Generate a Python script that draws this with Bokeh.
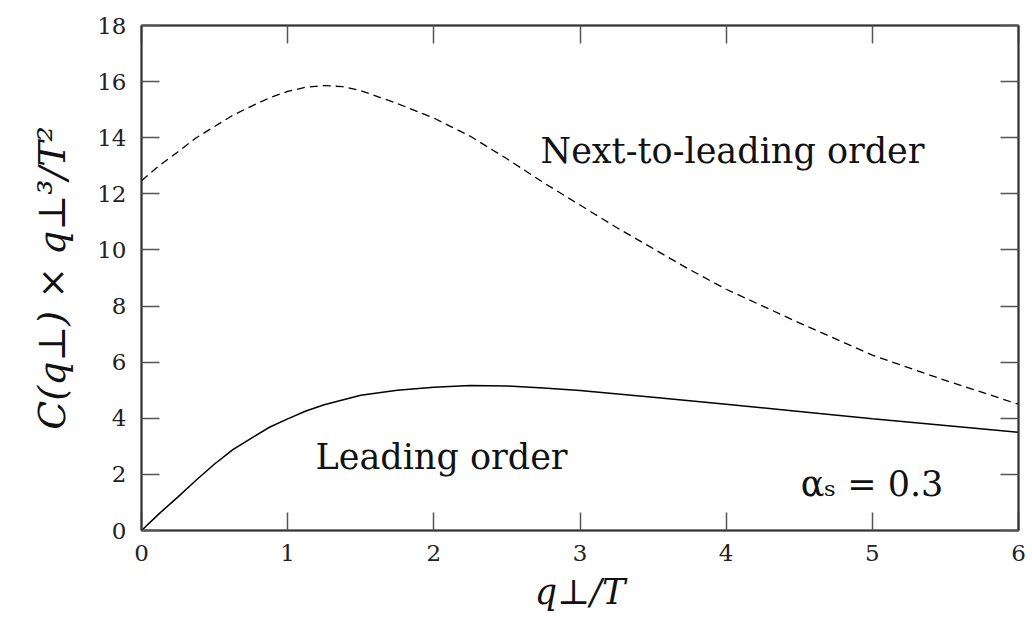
from bokeh.plotting import figure
from bokeh.models import Range1d, FixedTicker, LinearAxis, Label, CustomJSTickFormatter
from bokeh.embed import file_html
from bokeh.resources import INLINE

# Momentum grid q_perp / T and leading-order kernel C(q) * q^3 / T^2
q_lo = [0.0, 0.125, 0.25, 0.375, 0.5, 0.625, 0.75, 0.875, 1.0, 1.125, 1.25,
        1.5, 1.75, 2.0, 2.25, 2.5, 2.75, 3.0, 3.5, 4.0, 4.5, 5.0, 5.5, 6.0]
c_lo = [0.0, 0.62, 1.2, 1.8, 2.37, 2.88, 3.28, 3.68, 3.98, 4.26, 4.48,
        4.82, 5.0, 5.11, 5.17, 5.15, 5.08, 4.99, 4.75, 4.5, 4.24, 3.98, 3.74, 3.5]

# Next-to-leading-order kernel
q_nlo = [0.0, 0.125, 0.25, 0.375, 0.5, 0.625, 0.75, 0.875, 1.0, 1.125, 1.25,
         1.375, 1.5, 1.625, 1.75, 2.0, 2.25, 2.5, 2.75, 3.0, 3.25, 3.5, 3.75,
         4.0, 4.5, 5.0, 5.5, 6.0]
c_nlo = [12.47, 13.02, 13.5, 14.0, 14.4, 14.8, 15.12, 15.42, 15.65, 15.8, 15.86,
         15.82, 15.68, 15.45, 15.22, 14.7, 14.05, 13.25, 12.4, 11.6, 10.8, 10.05, 9.3,
         8.6, 7.4, 6.25, 5.35, 4.5]

x_ticks = [0, 1, 2, 3, 4, 5, 6]
y_ticks = [0, 2, 4, 6, 8, 10, 12, 14, 16, 18]

SERIF = "DejaVu Serif"
AX_COL = "#333333"

p = figure(width=1032, height=632, output_backend="svg", toolbar_location=None,
           x_range=Range1d(0, 6), y_range=Range1d(0, 18),
           min_border_left=141, min_border_right=14,
           min_border_top=25, min_border_bottom=102)
p.grid.visible = False
p.outline_line_color = AX_COL
p.outline_line_width = 1.5
p.background_fill_color = "white"
p.border_fill_color = "white"

def style_axis(ax, ticks, show_labels):
    ax.ticker = FixedTicker(ticks=ticks)
    ax.axis_line_color = AX_COL
    ax.axis_line_width = 2
    ax.major_tick_line_color = "#555555"
    ax.major_tick_line_width = 1.5
    ax.major_tick_in = 18
    ax.major_tick_out = 0
    ax.minor_tick_line_color = None
    if show_labels:
        ax.major_label_text_font = SERIF
        ax.major_label_text_font_size = "23px"
        ax.major_label_text_color = "#222222"
    else:
        ax.formatter = CustomJSTickFormatter(code="return ''")
        ax.major_label_text_font_size = "0px"
        ax.major_label_standoff = 0

xa = p.xaxis[0]
style_axis(xa, x_ticks, True)
xa.major_label_standoff = 14
xa.axis_label = "q⊥/T"
xa.axis_label_text_font = SERIF
xa.axis_label_text_font_style = "italic"
xa.axis_label_text_font_size = "35px"
xa.axis_label_text_color = "#111111"
xa.axis_label_standoff = 8

ya = p.yaxis[0]
style_axis(ya, y_ticks, True)
ya.major_label_standoff = 15
ya.axis_label = "C(q⊥) × q⊥³/T²"
ya.axis_label_text_font = SERIF
ya.axis_label_text_font_style = "italic"
ya.axis_label_text_font_size = "38px"
ya.axis_label_text_color = "#111111"
ya.axis_label_standoff = 20

top_ax = LinearAxis()
style_axis(top_ax, x_ticks, False)
p.add_layout(top_ax, "above")
right_ax = LinearAxis()
style_axis(right_ax, y_ticks, False)
p.add_layout(right_ax, "right")

p.line(q_nlo, c_nlo, line_color="black", line_width=1.3, line_dash="8 5")
p.line(q_lo, c_lo, line_color="black", line_width=1.5)

for txt, x, y in [("Next-to-leading order", 2.73, 13.54),
                  ("Leading order", 1.19, 2.61),
                  ("αₛ = 0.3", 4.51, 1.67)]:
    p.add_layout(Label(x=x, y=y, text=txt, text_font=SERIF,
                       text_font_size="35px", text_color="#111111",
                       text_baseline="alphabetic", text_align="left"))

open("out.html", "w").write(file_html(p, INLINE))
